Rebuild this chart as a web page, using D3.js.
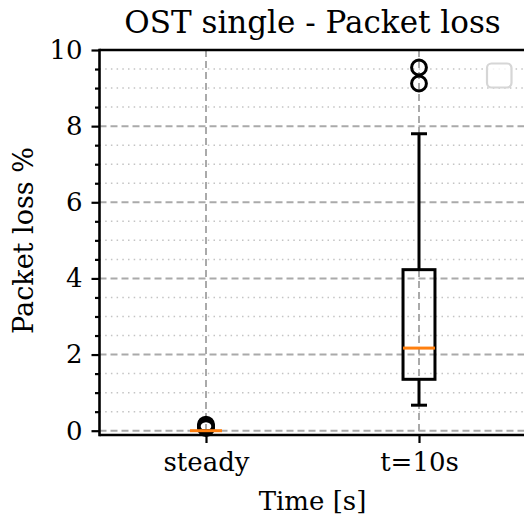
<!DOCTYPE html>
<html><head><meta charset="utf-8">
<script src="https://cdn.jsdelivr.net/npm/d3@7"></script>
<style>body{margin:0;background:#fff}svg{display:block}</style>
</head><body>
<svg id="c" width="524" height="527"></svg>
<script>
const categories = ["steady", "t=10s"];
const q1 = [0, 1.35];
const median = [0, 2.17];
const q3 = [0, 4.23];
const whiskerLow = [0, 0.67];
const whiskerHigh = [0, 7.8];
const fliers = [[0.16, 0.13, 0.1, 0.07], [9.12, 9.54]];
const yMajor = [0, 2, 4, 6, 8, 10];
const yMinor = d3.range(0, 10.01, 0.5);

const svg = d3.select("#c");
const L = 99.5, R = 525.5, T = 50, B = 435;
const x = d3.scaleLinear().domain([0.5, 2.5]).range([L, R]);
const y = d3.scaleLinear().domain([-0.113, 10]).range([B, T]);
const pos = categories.map((c, i) => i + 1);
const bw = 0.15, cw = 0.075;
const FONT = '"DejaVu Serif"';

const g = svg.append("g");
g.selectAll(".mg").data(yMinor.filter(v => !yMajor.includes(v))).join("line")
  .attr("x1", L).attr("x2", R).attr("y1", d => y(d)).attr("y2", d => y(d))
  .attr("stroke", "#c4c4c4").attr("stroke-width", 1.5).attr("stroke-dasharray", "1.5,4.2");
g.selectAll(".Mg").data(yMajor).join("line")
  .attr("x1", L).attr("x2", R).attr("y1", d => y(d)).attr("y2", d => y(d))
  .attr("stroke", "#aaaaaa").attr("stroke-width", 2).attr("stroke-dasharray", "7,4");
g.selectAll(".xg").data(pos).join("line")
  .attr("x1", d => x(d)).attr("x2", d => x(d)).attr("y1", T).attr("y2", B)
  .attr("stroke", "#aaaaaa").attr("stroke-width", 2).attr("stroke-dasharray", "7,4");

pos.forEach((p, i) => {
  const bg = svg.append("g").attr("stroke", "#000").attr("stroke-width", 3).attr("fill", "none");
  bg.append("line").attr("x1", x(p)).attr("x2", x(p)).attr("y1", y(q1[i])).attr("y2", y(whiskerLow[i]));
  bg.append("line").attr("x1", x(p)).attr("x2", x(p)).attr("y1", y(q3[i])).attr("y2", y(whiskerHigh[i]));
  bg.append("line").attr("x1", x(p - cw / 2)).attr("x2", x(p + cw / 2)).attr("y1", y(whiskerLow[i])).attr("y2", y(whiskerLow[i]));
  bg.append("line").attr("x1", x(p - cw / 2)).attr("x2", x(p + cw / 2)).attr("y1", y(whiskerHigh[i])).attr("y2", y(whiskerHigh[i]));
  bg.append("rect").attr("x", x(p - bw / 2)).attr("width", x(p + bw / 2) - x(p - bw / 2))
    .attr("y", y(q3[i])).attr("height", Math.max(0, y(q1[i]) - y(q3[i])));
  bg.selectAll("circle").data(fliers[i]).join("circle")
    .attr("cx", x(p)).attr("cy", d => y(d)).attr("r", 7.4).attr("stroke-width", 3);
  svg.append("line").attr("x1", x(p - bw / 2)).attr("x2", x(p + bw / 2))
    .attr("y1", y(median[i])).attr("y2", y(median[i]))
    .attr("stroke", "#ff7f0e").attr("stroke-width", 3);
});

svg.append("rect").attr("x", 487).attr("y", 63.5).attr("width", 24.5).attr("height", 24)
  .attr("rx", 4.5).attr("fill", "#fff").attr("fill-opacity", 0.8).attr("stroke", "#d6d6d6").attr("stroke-width", 2.2);

const ya = svg.append("g").attr("transform", `translate(${L},0)`)
  .call(d3.axisLeft(y).tickValues(yMajor).tickFormat(d3.format("d")).tickSize(8).tickPadding(9));
ya.select(".domain").remove();
const yminor = svg.append("g").attr("transform", `translate(${L},0)`)
  .call(d3.axisLeft(y).tickValues(yMinor.filter(v => !yMajor.includes(v))).tickFormat("").tickSize(4.5));
yminor.select(".domain").remove();
const xa = svg.append("g").attr("transform", `translate(0,${B})`)
  .call(d3.axisBottom(x).tickValues(pos).tickFormat((d, i) => categories[i]).tickSize(8).tickPadding(10));
xa.select(".domain").remove();
svg.selectAll("g").attr("font-family", null);
svg.selectAll(".tick line").attr("stroke", "#000").attr("stroke-width", 2.2);
svg.selectAll(".tick text").attr("font-size", 26).attr("fill", "#000").style("font-family", FONT);

const sp = svg.append("g").attr("stroke", "#000").attr("stroke-width", 2.6);
sp.append("line").attr("x1", L).attr("x2", L).attr("y1", T - 1.3).attr("y2", B + 1.3);
sp.append("line").attr("x1", L).attr("x2", R).attr("y1", B).attr("y2", B);
sp.append("line").attr("x1", L).attr("x2", R).attr("y1", T).attr("y2", T);

svg.append("text").attr("x", (L + R) / 2).attr("y", 33).attr("text-anchor", "middle")
  .attr("font-size", 31).style("font-family", FONT).text("OST single - Packet loss");
svg.append("text").attr("x", (L + R) / 2).attr("y", 510).attr("text-anchor", "middle")
  .attr("font-size", 26).style("font-family", FONT).text("Time [s]");
svg.append("text").attr("transform", `translate(33,${(T + B) / 2 - 2}) rotate(-90)`)
  .attr("text-anchor", "middle").attr("font-size", 27).style("font-family", FONT).text("Packet loss %");
</script>
</body></html>
